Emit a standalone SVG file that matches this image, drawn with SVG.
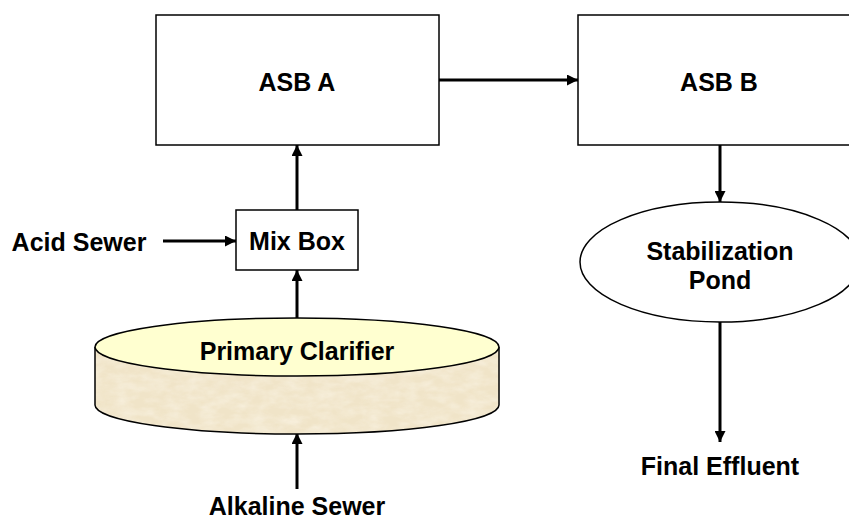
<svg xmlns="http://www.w3.org/2000/svg" width="849" height="519" viewBox="0 0 849 519">
  <style>
    .box { fill: #ffffff; stroke: #000000; stroke-width: 1.5; }
    .lbl { font-family: "Liberation Sans", Arial, sans-serif; font-weight: bold; font-size: 25px; fill: #000000; text-anchor: middle; }
    .flow { stroke: #000000; stroke-width: 3; fill: none; marker-end: url(#head); }
  </style>
  <defs>
    <marker id="head" viewBox="0 0 10 10" refX="10" refY="5" markerUnits="userSpaceOnUse" markerWidth="12" markerHeight="11" orient="auto">
      <path d="M0,0 L10,5 L0,10 Z" fill="#000000"/>
    </marker>
    <filter id="grain" x="0" y="0" width="100%" height="100%">
      <feTurbulence type="fractalNoise" baseFrequency="0.06 0.12" numOctaves="3" seed="4" result="n"/>
      <feColorMatrix in="n" type="matrix" values="0 0 0 0 0.95  0 0 0 0 0.89  0 0 0 0 0.76  0 0 0 -1.6 1.1" result="c"/>
      <feComposite in="c" in2="SourceGraphic" operator="in"/>
    </filter>
  </defs>

  <!-- connectors -->
  <g id="connectors">
    <line class="flow" x1="439" y1="80" x2="578" y2="80"/>
    <line class="flow" x1="297" y1="210" x2="297" y2="145"/>
    <line class="flow" x1="163" y1="241" x2="236" y2="241"/>
    <line class="flow" x1="297" y1="318" x2="297" y2="270"/>
    <line class="flow" x1="297" y1="489" x2="297" y2="433"/>
    <line class="flow" x1="720" y1="145" x2="720" y2="202"/>
    <line class="flow" x1="720" y1="322" x2="720" y2="442"/>
  </g>

  <g id="asb-a">
    <rect class="box" x="156" y="15" width="283" height="130"/>
    <text class="lbl" x="297" y="91">ASB A</text>
  </g>

  <g id="asb-b">
    <rect class="box" x="578" y="15" width="283" height="130"/>
    <text class="lbl" x="719" y="91">ASB B</text>
  </g>

  <g id="mix-box">
    <rect class="box" x="236" y="210" width="122" height="60"/>
    <text class="lbl" x="297" y="250">Mix Box</text>
  </g>

  <g id="acid-sewer">
    <text class="lbl" x="79" y="251">Acid Sewer</text>
  </g>

  <g id="primary-clarifier">
    <!-- cylinder wall with sandy texture -->
    <path d="M95,347 L95,405 A202,29 0 0 0 499,405 L499,347 A202,29 0 0 1 95,347 Z" fill="#f0e4c8"/>
    <path d="M95,347 L95,405 A202,29 0 0 0 499,405 L499,347 A202,29 0 0 1 95,347 Z" fill="#f0e4c8" filter="url(#grain)" opacity="0.8"/>
    <path d="M95,347 L95,405 A202,29 0 0 0 499,405 L499,347" fill="none" stroke="#000000" stroke-width="1.5"/>
    <ellipse cx="297" cy="347" rx="202" ry="29" fill="#ffffd0" stroke="#000000" stroke-width="1.5"/>
    <text class="lbl" x="297" y="360">Primary Clarifier</text>
  </g>

  <g id="alkaline-sewer">
    <text class="lbl" x="297" y="515">Alkaline Sewer</text>
  </g>

  <g id="stabilization-pond">
    <ellipse class="box" cx="720" cy="262" rx="140" ry="60"/>
    <text class="lbl" x="720" y="260">Stabilization</text>
    <text class="lbl" x="720" y="289">Pond</text>
  </g>

  <g id="final-effluent">
    <text class="lbl" x="720" y="475">Final Effluent</text>
  </g>
</svg>
